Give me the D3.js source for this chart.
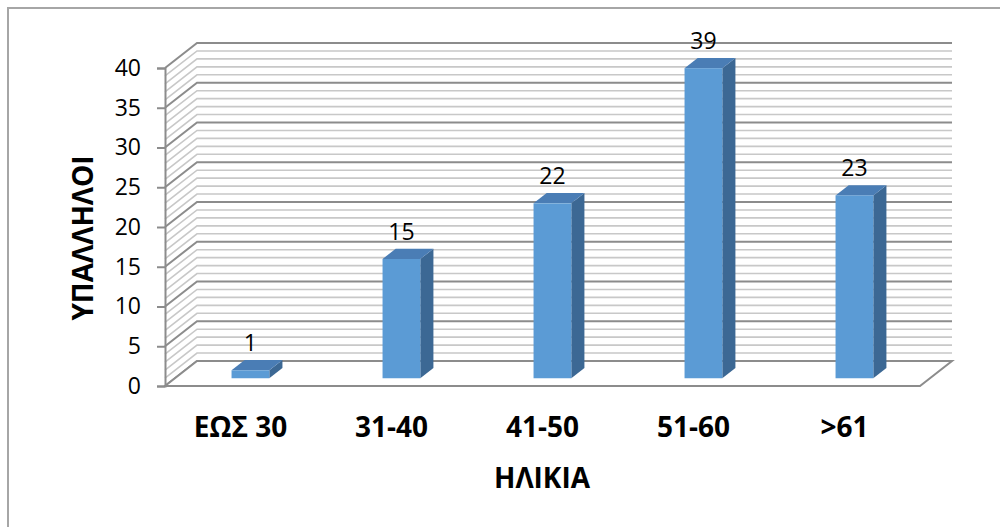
<!DOCTYPE html>
<html>
<head>
<meta charset="utf-8">
<script src="https://cdn.jsdelivr.net/npm/d3@7"></script>
<style>
  body { margin: 0; background: #fff; }
  svg { display: block; font-family: "Open Sans", "Noto Sans", sans-serif; }
</style>
</head>
<body>
<svg id="chart"></svg>
<script>
// chart data
const categories = ['ΕΩΣ 30', '31-40', '41-50', '51-60', '>61'];
const employees = [1, 15, 22, 39, 23];
const yTicks = [0, 5, 10, 15, 20, 25, 30, 35, 40];

const W = 1000, H = 527;
// front plane of the 3d box and the depth vector to the back wall
const LEFT = 165, RIGHT = 920, BOTTOM = 386, TOP = 68;
const DX = 32, DY = -25;
// bars sit in the middle of the depth
const D0 = 0.31, D1 = 0.72;

const svg = d3.select('#chart').attr('width', W).attr('height', H);

// outer chart border
svg.append('rect')
  .attr('x', 8).attr('y', 8)
  .attr('width', 1200).attr('height', 1000)
  .attr('fill', 'none').attr('stroke', '#a6a6a6').attr('stroke-width', 2);

const y = d3.scaleLinear().domain([0, 40]).range([BOTTOM, TOP]);
const x = d3.scaleBand().domain(categories).range([LEFT, RIGHT]);

// walls: a line for every unit, darker every 5
const grid = svg.append('g');
const units = d3.range(0, 41);
grid.selectAll('path.wall')
  .data(units)
  .enter()
  .append('path')
  .attr('d', v => `M${LEFT},${y(v)}L${LEFT + DX},${y(v) + DY}L${RIGHT + DX},${y(v) + DY}`)
  .attr('fill', 'none')
  .attr('stroke', v => v % 5 === 0 ? '#8c8c8c' : '#c8c8c8')
  .attr('stroke-width', v => v % 5 === 0 ? 2 : 1.6);

// floor
svg.append('path')
  .attr('d', `M${LEFT},${BOTTOM}L${RIGHT},${BOTTOM}L${RIGHT + DX},${BOTTOM + DY}L${LEFT + DX},${BOTTOM + DY}Z`)
  .attr('fill', '#fff').attr('stroke', 'none');
svg.append('path')
  .attr('d', `M${LEFT + DX},${BOTTOM + DY}L${RIGHT + DX},${BOTTOM + DY}L${RIGHT},${BOTTOM}L${LEFT},${BOTTOM}L${LEFT + DX},${BOTTOM + DY}`)
  .attr('fill', 'none').attr('stroke', '#8c8c8c').attr('stroke-width', 2);

// y axis on the front left edge
const yAxis = svg.append('g')
  .attr('transform', `translate(${LEFT},0)`)
  .call(d3.axisLeft(y).tickValues(yTicks).tickSize(8).tickPadding(16));
yAxis.select('.domain').attr('stroke', '#8c8c8c').attr('stroke-width', 2);
yAxis.selectAll('.tick line').attr('stroke', '#8c8c8c').attr('stroke-width', 2);
yAxis.selectAll('.tick text')
  .attr('font-size', 23).attr('fill', '#000')
  .attr('font-family', '"Open Sans", sans-serif');

// bars
const barW = x.bandwidth() * 0.25;
const bars = svg.append('g').selectAll('g')
  .data(categories.map((c, i) => ({c, v: employees[i]})))
  .enter()
  .append('g');

function barGeom(d) {
  const x0 = x(d.c) + x.bandwidth() / 2 - barW / 2 + DX * D0;
  const x1 = x0 + barW;
  const yb = y(0) + DY * D0;
  const yt = y(d.v) + DY * D0;
  const ddx = DX * (D1 - D0), ddy = DY * (D1 - D0);
  return {x0, x1, yb, yt, ddx, ddy};
}

bars.append('path') // side
  .attr('d', d => {
    const g = barGeom(d);
    return `M${g.x1},${g.yt}L${g.x1 + g.ddx},${g.yt + g.ddy}L${g.x1 + g.ddx},${g.yb + g.ddy}L${g.x1},${g.yb}Z`;
  })
  .attr('fill', '#3c6894');
bars.append('path') // top
  .attr('d', d => {
    const g = barGeom(d);
    return `M${g.x0},${g.yt}L${g.x1},${g.yt}L${g.x1 + g.ddx},${g.yt + g.ddy}L${g.x0 + g.ddx},${g.yt + g.ddy}Z`;
  })
  .attr('fill', '#4a7db5');
bars.append('rect') // front
  .attr('x', d => barGeom(d).x0)
  .attr('y', d => barGeom(d).yt)
  .attr('width', barW)
  .attr('height', d => barGeom(d).yb - barGeom(d).yt)
  .attr('fill', '#5b9bd5');

// value labels
bars.append('text')
  .attr('x', d => barGeom(d).x0 + barW / 2)
  .attr('y', d => { const g = barGeom(d); return g.yt + g.ddy - 9; })
  .attr('text-anchor', 'middle')
  .attr('font-size', 23)
  .text(d => d.v);

// category labels
svg.append('g').selectAll('text')
  .data(categories)
  .enter()
  .append('text')
  .attr('x', d => x(d) + x.bandwidth() / 2)
  .attr('y', 437)
  .attr('text-anchor', 'middle')
  .attr('font-size', 28)
  .attr('font-weight', 'bold')
  .text(d => d);

// axis titles
svg.append('text')
  .attr('x', 542).attr('y', 488)
  .attr('text-anchor', 'middle')
  .attr('font-size', 28).attr('font-weight', 'bold')
  .text('ΗΛΙΚΙΑ');

svg.append('text')
  .attr('transform', 'translate(93,238) rotate(-90)')
  .attr('text-anchor', 'middle')
  .attr('font-size', 28).attr('font-weight', 'bold')
  .text('ΥΠΑΛΛΗΛΟΙ');
</script>
</body>
</html>
